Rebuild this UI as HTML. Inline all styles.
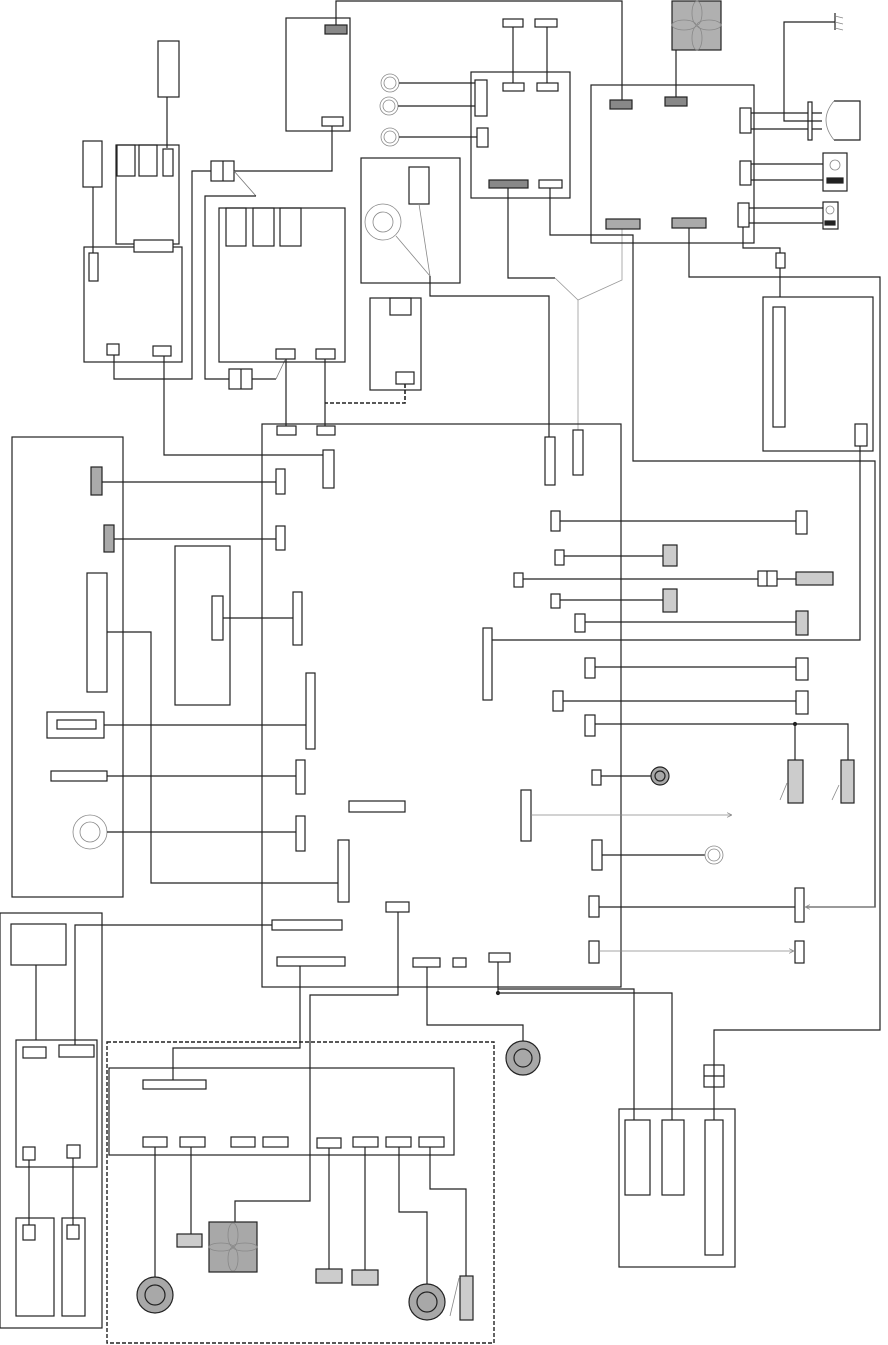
<!DOCTYPE html>
<html><head><meta charset="utf-8"><style>html,body{margin:0;padding:0;background:#fff}svg{display:block}</style></head>
<body>
<svg width="888" height="1345" viewBox="0 0 888 1345" xmlns="http://www.w3.org/2000/svg">
<defs><marker id="ar" markerWidth="6" markerHeight="6" refX="5" refY="3" orient="auto"><path d="M0,0 L6,3 L0,6" fill="none" stroke="#888" stroke-width="1"/></marker></defs>
<g fill="none" stroke="#222" stroke-width="1.2">
<!-- top-left -->
<rect x="158" y="41" width="21" height="56" fill="#fff"/>
<line x1="167" y1="97" x2="167" y2="148"/>
<rect x="83" y="141" width="19" height="46"/>
<line x1="93" y1="187" x2="93" y2="253"/>
<rect x="116" y="145" width="63" height="99"/>
<rect x="117" y="145" width="18" height="31"/><rect x="139" y="145" width="18" height="31"/><rect x="163" y="149" width="10" height="27"/>
<rect x="84" y="247" width="98" height="115"/>
<rect x="134" y="240" width="39" height="12" fill="#fff"/>
<rect x="89" y="253" width="9" height="28" fill="#fff"/>
<rect x="107" y="344" width="12" height="11"/><rect x="153" y="346" width="18" height="10"/>
<polyline points="114,355 114,379 192,379 192,171 211,171"/>
<rect x="211" y="161" width="23" height="20"/><line x1="223" y1="161" x2="223" y2="181"/>
<polyline points="164,356 164,455 323,455"/>
<rect x="323" y="450" width="11" height="38"/>
<rect x="286" y="18" width="64" height="113"/>
<rect x="325" y="25" width="22" height="9" fill="#888"/>
<rect x="322" y="117" width="21" height="9"/>
<polyline points="336,25 336,1 622,1 622,100"/>
<polyline points="332,126 332,171 234,171"/>
<polyline points="234,171 256,196" stroke="#777" stroke-width="0.8"/>
<polyline points="256,196 205,196 205,379 229,379"/>
<rect x="229" y="369" width="23" height="20"/><line x1="241" y1="369" x2="241" y2="389"/>
<line x1="252" y1="379" x2="276" y2="379"/>
<line x1="276" y1="379" x2="285" y2="360" stroke="#777" stroke-width="0.8"/>
<rect x="219" y="208" width="126" height="154"/>
<rect x="226" y="208" width="20" height="38"/><rect x="253" y="208" width="21" height="38"/><rect x="280" y="208" width="21" height="38"/>
<rect x="276" y="349" width="19" height="10"/><rect x="316" y="349" width="19" height="10"/>
<line x1="286" y1="359" x2="286" y2="426"/><line x1="325" y1="359" x2="325" y2="426"/>
<!-- circles -->
<g stroke="#888" stroke-width="0.8"><circle cx="390" cy="83" r="9"/><circle cx="390" cy="83" r="6"/><circle cx="389" cy="106" r="9"/><circle cx="389" cy="106" r="6"/><circle cx="390" cy="137" r="9"/><circle cx="390" cy="137" r="6"/></g>
<line x1="399" y1="83" x2="475" y2="83"/><line x1="398" y1="106" x2="475" y2="106"/><line x1="399" y1="137" x2="477" y2="137"/>
<rect x="361" y="158" width="99" height="125"/>
<rect x="409" y="167" width="20" height="37"/>
<g stroke="#888" stroke-width="0.8"><circle cx="383" cy="222" r="18"/><circle cx="383" cy="222" r="10"/><line x1="396" y1="236" x2="430" y2="276"/><line x1="419" y1="204" x2="430" y2="276"/></g>
<polyline points="430,276 430,296 549,296 549,437"/>
<rect x="545" y="437" width="10" height="48"/>
<rect x="370" y="298" width="51" height="92"/>
<rect x="390" y="298" width="21" height="17"/><rect x="396" y="372" width="18" height="12"/>
<polyline points="405,384 405,403 325,403" stroke-dasharray="4,2" stroke-width="1.6"/>
<rect x="471" y="72" width="99" height="126"/>
<rect x="475" y="80" width="12" height="36"/><rect x="477" y="128" width="11" height="19"/>
<rect x="503" y="83" width="21" height="8"/><rect x="537" y="83" width="21" height="8"/>
<rect x="503" y="19" width="20" height="8"/><rect x="535" y="19" width="22" height="8"/>
<line x1="513" y1="27" x2="513" y2="83"/><line x1="547" y1="27" x2="547" y2="83"/>
<rect x="489" y="180" width="39" height="8" fill="#888"/><rect x="539" y="180" width="23" height="8"/>
<polyline points="508,188 508,278 555,278"/>
<g stroke="#999" stroke-width="0.8"><polyline points="555,278 578,300 622,280 622,229"/><line x1="578" y1="300" x2="578" y2="430"/></g>
<rect x="573" y="430" width="10" height="45"/>
<polyline points="550,188 550,235 633,235 633,461 875,461 875,907 807,907"/>
<!-- top-right -->
<rect x="591" y="85" width="163" height="158"/>
<rect x="610" y="100" width="22" height="9" fill="#888"/><rect x="665" y="97" width="22" height="9" fill="#888"/>
<rect x="672" y="1" width="49" height="49" fill="#b0b0b0"/>
<g stroke="#888" stroke-width="0.8"><ellipse cx="697" cy="13" rx="5" ry="12"/><ellipse cx="697" cy="38" rx="5" ry="12"/><ellipse cx="684" cy="25" rx="12" ry="5"/><ellipse cx="709" cy="25" rx="12" ry="5"/></g>
<line x1="676" y1="50" x2="676" y2="97"/>
<rect x="740" y="108" width="11" height="25"/><rect x="740" y="161" width="11" height="24"/><rect x="738" y="203" width="11" height="24"/>
<rect x="606" y="219" width="34" height="10" fill="#aaa"/><rect x="672" y="218" width="34" height="10" fill="#aaa"/>
<line x1="751" y1="113" x2="822" y2="113"/><line x1="751" y1="129" x2="822" y2="129"/>
<rect x="808" y="102" width="4" height="38" fill="#fff"/>
<path d="M834,101 L860,101 L860,140 L834,140"/>
<path d="M834,101 Q818,120 834,140" stroke="#888" stroke-width="0.8"/>
<polyline points="822,121 784,121 784,22 835,22"/>
<line x1="835" y1="13" x2="835" y2="30"/>
<g stroke="#888" stroke-width="0.8"><line x1="835" y1="16" x2="843" y2="18"/><line x1="835" y1="22" x2="843" y2="24"/><line x1="835" y1="28" x2="843" y2="30"/></g>
<line x1="751" y1="164" x2="823" y2="164"/><line x1="751" y1="180" x2="823" y2="180"/>
<rect x="823" y="153" width="24" height="38"/><circle cx="835" cy="165" r="5" stroke="#888" stroke-width="0.8"/><rect x="827" y="178" width="16" height="5" fill="#222"/>
<line x1="749" y1="208" x2="823" y2="208"/><line x1="749" y1="223" x2="823" y2="223"/>
<rect x="823" y="202" width="15" height="27"/><circle cx="830" cy="210" r="4" stroke="#888" stroke-width="0.8"/><rect x="825" y="221" width="10" height="4" fill="#222"/>
<polyline points="743,227 743,248 780,248 780,297"/>
<rect x="776" y="253" width="9" height="15" fill="#fff"/>
<rect x="763" y="297" width="110" height="154"/>
<rect x="773" y="307" width="12" height="120"/><rect x="855" y="424" width="12" height="22"/>
<polyline points="860,446 860,640 492,640"/>
<polyline points="689,228 689,277 880,277 880,1030 714,1030 714,1120"/>
<rect x="704" y="1065" width="20" height="22" fill="#fff"/><line x1="704" y1="1076" x2="724" y2="1076"/><line x1="714" y1="1065" x2="714" y2="1087"/>
<!-- main box -->
<rect x="262" y="424" width="359" height="563"/>
<rect x="277" y="426" width="19" height="9"/><rect x="317" y="426" width="18" height="9"/>
<!-- left panel -->
<rect x="12" y="437" width="111" height="460"/>
<rect x="91" y="467" width="11" height="28" fill="#aaa"/><line x1="102" y1="482" x2="276" y2="482"/><rect x="276" y="469" width="9" height="25"/>
<rect x="104" y="525" width="10" height="27" fill="#aaa"/><line x1="114" y1="539" x2="276" y2="539"/><rect x="276" y="526" width="9" height="24"/>
<rect x="87" y="573" width="20" height="119"/><polyline points="107,632 151,632 151,883 338,883"/><rect x="338" y="840" width="11" height="62"/>
<rect x="47" y="712" width="57" height="26"/><rect x="57" y="720" width="39" height="9"/><line x1="104" y1="725" x2="306" y2="725"/><rect x="306" y="673" width="9" height="76"/>
<rect x="51" y="771" width="56" height="10"/><line x1="107" y1="776" x2="296" y2="776"/><rect x="296" y="760" width="9" height="34"/>
<g stroke="#888" stroke-width="0.8"><circle cx="90" cy="832" r="17"/><circle cx="90" cy="832" r="10"/></g><line x1="107" y1="832" x2="296" y2="832"/><rect x="296" y="816" width="9" height="35"/>
<rect x="175" y="546" width="55" height="159"/><rect x="212" y="596" width="11" height="44"/><line x1="223" y1="618" x2="293" y2="618"/><rect x="293" y="592" width="9" height="53"/>
<rect x="349" y="801" width="56" height="11"/>
<rect x="272" y="920" width="70" height="10"/><polyline points="272,925 75,925 75,1045"/>
<rect x="277" y="957" width="68" height="9"/><polyline points="300,966 300,1048 173,1048 173,1080"/>
<rect x="386" y="902" width="23" height="10"/><polyline points="398,912 398,995 310,995 310,1201 235,1201 235,1222"/>
<rect x="413" y="958" width="27" height="9"/><rect x="453" y="958" width="13" height="9"/><rect x="489" y="953" width="21" height="9"/>
<polyline points="427,967 427,1025 523,1025 523,1041"/>
<circle cx="523" cy="1058" r="17" fill="#a8a8a8"/><circle cx="523" cy="1058" r="9" fill="#a8a8a8"/>
<polyline points="498,962 498,993 672,993 672,1120"/><polyline points="498,989 634,989 634,1120"/>
<circle cx="498" cy="993" r="1.5" fill="#222"/>
<!-- right side connectors -->
<rect x="551" y="511" width="9" height="20"/><line x1="560" y1="521" x2="796" y2="521"/><rect x="796" y="511" width="11" height="23"/>
<rect x="555" y="550" width="9" height="15"/><line x1="564" y1="556" x2="663" y2="556"/><rect x="663" y="545" width="14" height="21" fill="#ccc"/>
<rect x="514" y="573" width="9" height="14"/><line x1="523" y1="579" x2="758" y2="579"/><rect x="758" y="571" width="19" height="15"/><line x1="767" y1="571" x2="767" y2="586"/><line x1="777" y1="579" x2="796" y2="579"/><rect x="796" y="572" width="37" height="13" fill="#ccc"/>
<rect x="551" y="594" width="9" height="14"/><line x1="560" y1="600" x2="663" y2="600"/><rect x="663" y="589" width="14" height="23" fill="#ccc"/>
<rect x="575" y="614" width="10" height="18"/><line x1="585" y1="622" x2="796" y2="622"/><rect x="796" y="611" width="12" height="24" fill="#ccc"/>
<rect x="483" y="628" width="9" height="72"/>
<rect x="585" y="658" width="10" height="20"/><line x1="595" y1="667" x2="796" y2="667"/><rect x="796" y="658" width="12" height="22"/>
<rect x="553" y="691" width="10" height="20"/><line x1="563" y1="701" x2="796" y2="701"/><rect x="796" y="691" width="12" height="23"/>
<rect x="585" y="715" width="10" height="21"/><polyline points="595,724 848,724 848,760"/><line x1="795" y1="724" x2="795" y2="760"/><circle cx="795" cy="724" r="1.5" fill="#222"/>
<rect x="788" y="760" width="15" height="43" fill="#ccc"/><rect x="841" y="760" width="13" height="43" fill="#ccc"/>
<g stroke="#888" stroke-width="0.8"><line x1="780" y1="800" x2="787" y2="783"/><line x1="832" y1="800" x2="839" y2="785"/></g>
<rect x="592" y="770" width="9" height="15"/><line x1="601" y1="776" x2="652" y2="776"/><circle cx="660" cy="776" r="9" fill="#a8a8a8"/><circle cx="660" cy="776" r="5" fill="#a8a8a8"/>
<rect x="521" y="790" width="10" height="51"/><line x1="531" y1="815" x2="731" y2="815" stroke="#888" stroke-width="0.8" marker-end="url(#ar)"/>
<rect x="592" y="840" width="10" height="30"/><line x1="602" y1="855" x2="705" y2="855"/><g stroke="#888" stroke-width="0.8"><circle cx="714" cy="855" r="9"/><circle cx="714" cy="855" r="6"/></g>
<rect x="589" y="896" width="10" height="21"/><line x1="599" y1="907" x2="795" y2="907"/><rect x="795" y="888" width="9" height="34"/>
<line x1="875" y1="907" x2="806" y2="907" stroke="#888" stroke-width="0.8" marker-end="url(#ar)"/>
<rect x="589" y="941" width="10" height="22"/><line x1="599" y1="951" x2="793" y2="951" stroke="#888" stroke-width="0.8" marker-end="url(#ar)"/><rect x="795" y="941" width="9" height="22"/>
<!-- bottom-left -->
<rect x="0" y="913" width="102" height="415"/>
<rect x="11" y="924" width="55" height="41"/><line x1="36" y1="965" x2="36" y2="1040"/>
<rect x="16" y="1040" width="81" height="127"/>
<rect x="23" y="1047" width="23" height="11"/><rect x="59" y="1045" width="35" height="12"/>
<rect x="23" y="1147" width="12" height="13"/><rect x="67" y="1145" width="13" height="13"/>
<line x1="29" y1="1160" x2="29" y2="1225"/><line x1="73" y1="1158" x2="73" y2="1225"/>
<rect x="16" y="1218" width="38" height="98"/><rect x="23" y="1225" width="12" height="15"/>
<rect x="62" y="1218" width="23" height="98"/><rect x="67" y="1225" width="12" height="14"/>
<!-- bottom dashed -->
<rect x="107" y="1042" width="387" height="301" stroke-dasharray="4,2" stroke-width="1.4"/>
<rect x="109" y="1068" width="345" height="87"/>
<rect x="143" y="1080" width="63" height="9"/>
<rect x="143" y="1137" width="24" height="10"/><rect x="180" y="1137" width="25" height="10"/><rect x="231" y="1137" width="24" height="10"/><rect x="263" y="1137" width="25" height="10"/><rect x="317" y="1138" width="24" height="10"/><rect x="353" y="1137" width="25" height="10"/><rect x="386" y="1137" width="25" height="10"/><rect x="419" y="1137" width="25" height="10"/>
<line x1="155" y1="1147" x2="155" y2="1277"/><circle cx="155" cy="1295" r="18" fill="#a8a8a8"/><circle cx="155" cy="1295" r="10" fill="#a8a8a8"/>
<line x1="191" y1="1147" x2="191" y2="1234"/><rect x="177" y="1234" width="25" height="13" fill="#ccc"/>
<rect x="209" y="1222" width="48" height="50" fill="#a8a8a8"/>
<g stroke="#888" stroke-width="0.8"><ellipse cx="233" cy="1235" rx="5" ry="12"/><ellipse cx="233" cy="1259" rx="5" ry="12"/><ellipse cx="221" cy="1247" rx="12" ry="4"/><ellipse cx="245" cy="1247" rx="12" ry="4"/></g>
<line x1="329" y1="1148" x2="329" y2="1269"/><rect x="316" y="1269" width="26" height="14" fill="#ccc"/>
<line x1="365" y1="1147" x2="365" y2="1270"/><rect x="352" y="1270" width="26" height="15" fill="#ccc"/>
<polyline points="399,1147 399,1212 427,1212 427,1286"/><circle cx="427" cy="1302" r="18" fill="#a8a8a8"/><circle cx="427" cy="1302" r="10" fill="#a8a8a8"/>
<polyline points="430,1147 430,1189 466,1189 466,1276"/><rect x="460" y="1276" width="13" height="44" fill="#ccc"/>
<line x1="450" y1="1316" x2="459" y2="1278" stroke="#888" stroke-width="0.8"/>
<!-- bottom right -->
<rect x="619" y="1109" width="116" height="158"/>
<rect x="625" y="1120" width="25" height="75"/><rect x="662" y="1120" width="22" height="75"/><rect x="705" y="1120" width="18" height="135"/>
</g>
</svg>
</body></html>
